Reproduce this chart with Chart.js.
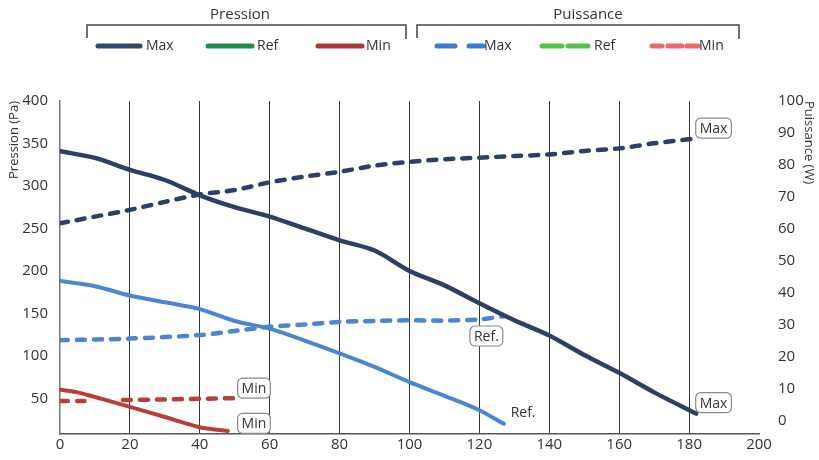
<!DOCTYPE html>
<html>
<head>
<meta charset="utf-8">
<script src="https://cdn.jsdelivr.net/npm/chart.js@4/dist/chart.umd.min.js"></script>
<style>
  html, body { margin: 0; padding: 0; background: #fff; }
  #wrap { width: 819px; height: 460px; position: relative; }
</style>
</head>
<body>
<div id="wrap"><canvas id="courbes"></canvas></div>
<script>
// Débit (axe x) et valeurs
const xTicks = [0, 20, 40, 60, 80, 100, 120, 140, 160, 180, 200];
const pressionTicks = [50, 100, 150, 200, 250, 300, 350, 400];
const puissanceTicks = [0, 10, 20, 30, 40, 50, 60, 70, 80, 90, 100];

const pressMaxX = [0, 10, 20, 30, 40, 50, 60, 70, 80, 90, 100, 110, 120, 130, 140, 150, 160, 170, 182];
const pressMaxY = [341, 333, 319, 307, 289, 275, 264, 250, 236, 224, 200, 183, 162, 142, 124, 101, 80, 57, 32];

const pressRefX = [0, 10, 20, 30, 40, 50, 60, 70, 80, 90, 100, 110, 120, 127];
const pressRefY = [188, 182, 171, 163, 155, 141, 132, 118, 103, 87, 69, 53, 36, 20];

const pressMinX = [0, 5, 10, 20, 30, 40, 48];
const pressMinY = [60, 57, 51.5, 40, 28, 16, 11.5];

const puisMaxX = [0, 10, 20, 30, 40, 50, 60, 70, 80, 90, 100, 110, 120, 130, 140, 150, 160, 170, 182];
const puisMaxY = [61.8, 63.9, 66, 68.5, 70.8, 72.2, 74.6, 76.4, 77.9, 79.8, 81, 81.8, 82.3, 82.8, 83.3, 84.4, 85.2, 86.8, 88.3];

const puisRefX = [0, 20, 40, 50, 60, 70, 80, 90, 100, 110, 120, 127];
const puisRefY = [25.3, 25.8, 26.9, 28.2, 29.5, 30.2, 31, 31.3, 31.5, 31.4, 31.8, 32.8];

const puisMinX = [0, 7, 12, 18, 30, 40, 50];
const puisMinY = [6.3, 6.3, null, 6.6, 6.8, 7, 7.2];

// étiquettes posées sur les courbes
const notes = [
    { text: 'Max', x: 187, y: 91.5, axis: 'yW', box: true },
    { text: 'Max', x: 187, y: 45, axis: 'yP', box: true },
    { text: 'Ref.', x: 122, y: 26.6, axis: 'yW', box: true },
    { text: 'Ref.', x: 132.5, y: 33.5, axis: 'yP', box: false },
    { text: 'Min', x: 55.5, y: 10.3, axis: 'yW', box: true },
    { text: 'Min', x: 55.5, y: 20.5, axis: 'yP', box: true }
];

const FONT = '"Open Sans", "Noto Sans", sans-serif';
const navy = '#2c3f66';
const bleu = '#4a86d2';
const rouge = '#b63f3a';

function pts(xs, ys) {
    return xs.map((x, i) => ({ x: x, y: ys[i] }));
}

function roundRect(ctx, x, y, w, h, r) {
    ctx.beginPath();
    ctx.moveTo(x + r, y);
    ctx.arcTo(x + w, y, x + w, y + h, r);
    ctx.arcTo(x + w, y + h, x, y + h, r);
    ctx.arcTo(x, y + h, x, y, r);
    ctx.arcTo(x, y, x + w, y, r);
    ctx.closePath();
}

// légende en deux groupes + étiquettes
const decor = {
    id: 'decor',
    afterDraw(chart) {
        const ctx = chart.ctx;
        ctx.save();
        ctx.font = '15px ' + FONT;
        ctx.fillStyle = '#333';
        ctx.textBaseline = 'middle';
        ctx.textAlign = 'center';
        ctx.fillText('Pression', 240, 15);
        ctx.fillText('Puissance', 588, 15);

        ctx.strokeStyle = '#444';
        ctx.lineWidth = 1.5;
        [[87, 406], [417, 739]].forEach(b => {
            ctx.beginPath();
            ctx.moveTo(b[0], 38);
            ctx.lineTo(b[0], 25);
            ctx.lineTo(b[1], 25);
            ctx.lineTo(b[1], 39);
            ctx.stroke();
        });

        const items = [
            { x: 98, w: 42, color: '#34486e', dash: [], label: 'Max', tx: 146 },
            { x: 208, w: 44, color: '#1f8d45', dash: [], label: 'Ref', tx: 257 },
            { x: 318, w: 44, color: '#b3333b', dash: [], label: 'Min', tx: 366 },
            { x: 437, w: 46, color: '#3b7bd4', dash: [18, 14], label: 'Max', tx: 484 },
            { x: 542, w: 48, color: '#55c24c', dash: [20, 6], label: 'Ref', tx: 594 },
            { x: 652, w: 46, color: '#f16767', dash: [10, 6, 14, 5, 12, 0], label: 'Min', tx: 699 }
        ];
        ctx.font = '14px ' + FONT;
        items.forEach(it => {
            ctx.beginPath();
            ctx.strokeStyle = it.color;
            ctx.lineWidth = 5;
            ctx.lineCap = 'round';
            ctx.setLineDash(it.dash);
            ctx.moveTo(it.x, 46);
            ctx.lineTo(it.x + it.w, 46);
            ctx.stroke();
            ctx.setLineDash([]);
            ctx.textAlign = 'left';
            ctx.fillStyle = '#333';
            ctx.fillText(it.label, it.tx, 46);
        });

        const sx = chart.scales.x;
        notes.forEach(n => {
            const px = sx.getPixelForValue(n.x);
            const py = chart.scales[n.axis].getPixelForValue(n.y);
            const tw = ctx.measureText(n.text).width;
            if (n.box) {
                ctx.fillStyle = '#fff';
                ctx.strokeStyle = '#8a8a8a';
                ctx.lineWidth = 1.2;
                roundRect(ctx, px - tw / 2 - 4, py - 10, tw + 8, 20, 5);
                ctx.fill();
                ctx.stroke();
            }
            ctx.fillStyle = '#333';
            ctx.textAlign = 'center';
            ctx.fillText(n.text, px, py + 1);
        });
        ctx.restore();
    }
};

const tickFont = { size: 15, family: FONT };

const ctx = document.getElementById('courbes').getContext('2d');
const chart = new Chart(ctx, {
    type: 'line',
    data: {
        datasets: [
            { label: 'Pression Max', data: pts(pressMaxX, pressMaxY), yAxisID: 'yP', borderColor: navy, borderWidth: 4.5 },
            { label: 'Pression Ref', data: pts(pressRefX, pressRefY), yAxisID: 'yP', borderColor: bleu, borderWidth: 4 },
            { label: 'Pression Min', data: pts(pressMinX, pressMinY), yAxisID: 'yP', borderColor: rouge, borderWidth: 4 },
            { label: 'Puissance Max', data: pts(puisMaxX, puisMaxY), yAxisID: 'yW', borderColor: navy, borderWidth: 4.5, borderDash: [8, 9] },
            { label: 'Puissance Ref', data: pts(puisRefX, puisRefY), yAxisID: 'yW', borderColor: bleu, borderWidth: 4.5, borderDash: [8, 9] },
            { label: 'Puissance Min', data: pts(puisMinX, puisMinY), yAxisID: 'yW', borderColor: rouge, borderWidth: 4.5, borderDash: [8, 9] }
        ]
    },
    options: {
        responsive: true,
        maintainAspectRatio: false,
        animation: false,
        spanGaps: false,
        layout: { padding: { top: 101, left: 0, right: 0, bottom: 0 } },
        elements: {
            point: { radius: 0 },
            line: { tension: 0.3, borderCapStyle: 'round', fill: false }
        },
        plugins: {
            legend: { display: false },
            tooltip: { enabled: false }
        },
        scales: {
            x: {
                type: 'linear',
                min: 0,
                max: 200,
                afterBuildTicks: s => { s.ticks = xTicks.map(v => ({ value: v })); },
                afterFit: s => { s.height = 26; },
                ticks: { color: '#333', font: tickFont, padding: 2, maxRotation: 0 },
                grid: {
                    drawTicks: false,
                    color: c => (c.tick && c.tick.value > 0 && c.tick.value < 200) ? '#3a3a3a' : 'rgba(0,0,0,0)',
                    lineWidth: 1
                },
                border: { color: '#555', width: 1.5 }
            },
            yP: {
                position: 'left',
                min: 8,
                max: 400,
                afterBuildTicks: s => { s.ticks = pressionTicks.map(v => ({ value: v })); },
                afterFit: s => { s.width = 60; },
                ticks: { color: '#333', font: tickFont, padding: 4 },
                grid: { display: false },
                border: { color: '#777', width: 1.5 },
                title: { display: true, text: 'Pression (Pa)', align: 'end', color: '#333', font: { size: 13, family: FONT }, padding: { top: 6, bottom: 0 } }
            },
            yW: {
                position: 'right',
                min: -4,
                max: 100,
                afterBuildTicks: s => { s.ticks = puissanceTicks.map(v => ({ value: v })); },
                afterFit: s => { s.width = 60; },
                ticks: { color: '#333', font: tickFont, padding: 11 },
                grid: { display: false },
                border: { display: false },
                title: { display: true, text: 'Puissance (W)', align: 'end', color: '#333', font: { size: 13, family: FONT }, padding: { top: 2, bottom: 0 } }
            }
        }
    },
    plugins: [decor]
});
</script>
</body>
</html>
